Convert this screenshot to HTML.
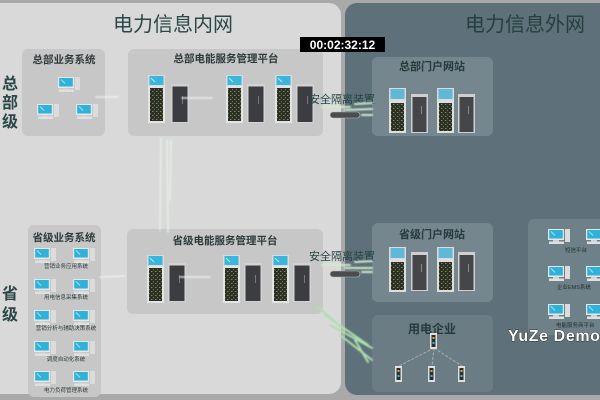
<!DOCTYPE html>
<html><head><meta charset="utf-8"><style>
html,body{margin:0;padding:0;background:#a9a9a9;}
svg{display:block;}
text{font-family:"Liberation Sans","Noto Sans CJK SC",sans-serif;}
</style></head><body>
<svg width="600" height="400" viewBox="0 0 600 400" xmlns="http://www.w3.org/2000/svg">
<defs>
  <pattern id="dots" width="4" height="4" patternUnits="userSpaceOnUse">
    <rect width="4" height="4" fill="#2b2f29"/>
    <rect x="0" y="0" width="1.5" height="1" fill="#8a8a45"/>
    <rect x="2" y="2" width="1" height="1.2" fill="#6f7a3a"/>
  </pattern>
  <filter id="blur1"><feGaussianBlur stdDeviation="0.8"/></filter>
  <filter id="blur2"><feGaussianBlur stdDeviation="1.5"/></filter>
  <g id="tower">
    <rect x="0" y="0" width="17" height="11" fill="#d9dcdc"/>
    <rect x="1.5" y="1" width="14" height="9" fill="#38b6dc"/>
    <path d="M3 3 l4 4" stroke="#bfeaf5" stroke-width="1"/>
    <rect x="0" y="11" width="17" height="37" fill="#e4e4e4"/>
    <rect x="2" y="13" width="13" height="33" fill="url(#dots)"/>
  </g>
  <g id="tower2">
    <rect x="0" y="0" width="17" height="13" fill="#d9dcdc"/>
    <rect x="1.5" y="1" width="14" height="10" fill="#5fb9d6"/>
    <rect x="0" y="13" width="17" height="32" fill="#dedede"/>
    <rect x="2" y="15" width="13" height="28" fill="url(#dots)"/>
  </g>
  <g id="cab">
    <rect x="0" y="0" width="18" height="39" fill="#d2d2d2"/>
    <rect x="1.5" y="2.5" width="15" height="35.5" fill="#3b3d40"/>
    <rect x="11" y="12" width="1" height="8" fill="#777"/>
  </g>
  <g id="cab2">
    <rect x="0" y="0" width="17" height="39" fill="#cfcfcf"/>
    <rect x="1.5" y="3" width="14" height="35" fill="#444648"/>
    <rect x="10" y="12" width="1" height="8" fill="#888"/>
  </g>
  <g id="pc">
    <rect x="0" y="0" width="16" height="11" fill="#e6e8e8"/>
    <rect x="1.2" y="1" width="13.6" height="8.5" fill="#2fb2da"/>
    <path d="M3 2.5 l4 4" stroke="#a8e2f2" stroke-width="1"/>
    <rect x="17" y="0" width="5" height="13" fill="#dcdcdc"/>
    <rect x="5" y="11" width="6" height="1.5" fill="#cfcfcf"/>
    <rect x="1" y="12.5" width="15" height="2.5" fill="#e0e0e0"/>
  </g>
  <g id="dev">
    <rect x="0" y="0" width="7" height="16" fill="#e0e0e0"/>
    <rect x="1.5" y="2" width="4" height="12" fill="#2c2f2c"/>
    <rect x="2.5" y="4" width="2" height="2" fill="#c8b040"/>
    <rect x="2.5" y="9" width="2" height="2" fill="#38b6dc"/>
  </g>
</defs>

<!-- background -->
<rect x="0" y="0" width="600" height="400" fill="#a9a9a9"/>
<!-- left panel -->
<rect x="-12" y="3" width="353" height="391" rx="12" fill="#d9d9d9"/>
<!-- right panel -->
<rect x="345" y="3" width="270" height="392" rx="12" fill="#5e7079"/>

<!-- titles -->
<text x="173" y="31" font-size="20" fill="#2b4846" text-anchor="middle">电力信息内网</text>
<text x="525" y="31" font-size="20" fill="#24403f" text-anchor="middle">电力信息外网</text>

<!-- vertical labels -->
<g font-size="16" fill="#2b4846" font-weight="bold">
<text x="2" y="89">总</text>
<text x="2" y="108">部</text>
<text x="2" y="127">级</text>
<text x="2" y="299">省</text>
<text x="2" y="320">级</text>
</g>

<!-- 总部业务系统 -->
<rect x="22" y="49" width="83" height="87" rx="6" fill="#c7c7c7"/>
<text x="64" y="63" font-size="10.5" font-weight="bold" fill="#2e3a3a" text-anchor="middle">总部业务系统</text>
<use href="#pc" x="58" y="77"/>
<use href="#pc" x="37" y="104"/>
<use href="#pc" x="76" y="104"/>

<!-- 总部电能服务管理平台 -->
<rect x="128" y="49" width="195" height="87" rx="6" fill="#c7c7c7"/>
<text x="226" y="62" font-size="10.5" font-weight="bold" fill="#2e3a3a" text-anchor="middle">总部电能服务管理平台</text>
<use href="#tower" x="148" y="75"/>
<use href="#cab" x="171" y="84"/>
<use href="#tower" x="226" y="75"/>
<use href="#cab" x="247" y="84"/>
<use href="#tower" x="275" y="75"/>
<use href="#cab" x="296" y="84"/>

<!-- 省级业务系统 -->
<rect x="28" y="225" width="73" height="172" rx="6" fill="#c7c7c7"/>
<text x="64" y="241" font-size="10.5" font-weight="bold" fill="#2e3a3a" text-anchor="middle">省级业务系统</text>
<g font-size="5.5" fill="#2e3a3a" text-anchor="middle">
<use href="#pc" x="34" y="248"/><use href="#pc" x="73" y="248"/>
<text x="66" y="268">营销业务应用系统</text>
<use href="#pc" x="34" y="279"/><use href="#pc" x="73" y="279"/>
<text x="66" y="299">用电信息采集系统</text>
<use href="#pc" x="34" y="310"/><use href="#pc" x="73" y="310"/>
<text x="66" y="330">营销分析与辅助决策系统</text>
<use href="#pc" x="34" y="341"/><use href="#pc" x="73" y="341"/>
<text x="66" y="361">调度自动化系统</text>
<use href="#pc" x="34" y="371"/><use href="#pc" x="73" y="371"/>
<text x="66" y="392">电力负荷管理系统</text>
</g>

<!-- 省级电能服务管理平台 -->
<rect x="127" y="229" width="196" height="85" rx="6" fill="#c7c7c7"/>
<text x="225" y="244" font-size="10.5" font-weight="bold" fill="#2e3a3a" text-anchor="middle">省级电能服务管理平台</text>
<use href="#tower" x="147" y="255"/>
<use href="#cab" x="168" y="263"/>
<use href="#tower" x="223" y="255"/>
<use href="#cab" x="244" y="263"/>
<use href="#tower" x="272" y="255"/>
<use href="#cab" x="293" y="263"/>

<!-- portal boxes -->
<rect x="372" y="57" width="121" height="79" rx="6" fill="#76868e"/>
<text x="432" y="70" font-size="11" font-weight="bold" fill="#263a3e" text-anchor="middle">总部门户网站</text>
<use href="#tower2" x="389" y="88"/>
<use href="#cab2" x="411" y="94"/>
<use href="#tower2" x="437" y="88"/>
<use href="#cab2" x="458" y="94"/>

<rect x="372" y="223" width="121" height="79" rx="6" fill="#76868e"/>
<text x="432" y="238" font-size="11" font-weight="bold" fill="#263a3e" text-anchor="middle">省级门户网站</text>
<use href="#tower2" x="389" y="247"/>
<use href="#cab2" x="411" y="252"/>
<use href="#tower2" x="437" y="247"/>
<use href="#cab2" x="458" y="252"/>

<!-- 用电企业 -->
<rect x="372" y="315" width="121" height="77" rx="6" fill="#6b7c84"/>
<text x="432" y="333" font-size="12" font-weight="bold" fill="#263a3e" text-anchor="middle">用电企业</text>
<g stroke="#c9d2d4" stroke-width="1" opacity="0.6" stroke-dasharray="3 1.5">
<line x1="434" y1="348" x2="399" y2="366"/>
<line x1="434" y1="348" x2="432" y2="366"/>
<line x1="434" y1="348" x2="462" y2="366"/>
</g>
<use href="#dev" x="430" y="333"/>
<use href="#dev" x="395" y="366"/>
<use href="#dev" x="428" y="366"/>
<use href="#dev" x="458" y="366"/>

<!-- right box -->
<rect x="528" y="219" width="90" height="116" rx="6" fill="#6e8088"/>
<g font-size="5.5" fill="#1f2f33">
<use href="#pc" x="548" y="229"/><use href="#pc" x="586" y="229"/>
<text x="565" y="252">短信平台</text>
<use href="#pc" x="548" y="266"/><use href="#pc" x="586" y="266"/>
<text x="557" y="289">企业EMS系统</text>
<use href="#pc" x="548" y="304"/><use href="#pc" x="586" y="304"/>
<text x="556" y="327">电能服务商平台</text>
</g>

<!-- isolation devices -->
<text x="342" y="103" font-size="11" fill="#234442" text-anchor="middle">安全隔离装置</text>
<rect x="330" y="112" width="30" height="6" rx="3" fill="#4a4c4e" stroke="#bbb" stroke-width="0.6"/>
<text x="342" y="260" font-size="11" fill="#234442" text-anchor="middle">安全隔离装置</text>
<rect x="330" y="271" width="30" height="6" rx="3" fill="#4a4c4e" stroke="#bbb" stroke-width="0.6"/>

<!-- data streaks -->
<g filter="url(#blur1)" stroke-linecap="round">
  <g stroke="#cfeccf" stroke-width="2">
    <line x1="322" y1="107" x2="350" y2="107"/>
    <line x1="355" y1="104" x2="372" y2="103"/>
    <line x1="345" y1="110" x2="372" y2="109"/>
    <line x1="362" y1="115" x2="372" y2="115"/>
    <line x1="322" y1="265" x2="350" y2="265"/>
    <line x1="355" y1="262" x2="372" y2="261"/>
    <line x1="345" y1="268" x2="372" y2="268"/>
    <line x1="362" y1="272" x2="372" y2="272"/>
  </g>
  <g stroke="#aee0ae" stroke-width="2">
    <line x1="318" y1="307" x2="345" y2="330"/>
    <line x1="325" y1="315" x2="368" y2="345"/>
    <line x1="330" y1="325" x2="372" y2="348"/>
    <line x1="340" y1="335" x2="372" y2="360"/>
    <line x1="355" y1="340" x2="368" y2="362"/>
  </g>
  <g stroke="#e8f4e8" stroke-width="1.6" opacity="0.8">
    <line x1="161" y1="138" x2="160" y2="230"/>
    <line x1="167" y1="140" x2="168" y2="232"/>
    <line x1="171" y1="140" x2="170" y2="200"/>
  </g>
  <g stroke="#f2f2f2" stroke-width="1.5" opacity="0.9">
    <line x1="96" y1="97" x2="118" y2="97"/>
    <line x1="182" y1="98" x2="212" y2="98"/>
    <line x1="100" y1="277" x2="125" y2="276"/>
    <line x1="180" y1="277" x2="210" y2="277"/>
  </g>
</g>

<!-- timestamp -->
<rect x="300" y="37" width="85" height="15" fill="#000"/>
<text x="342.5" y="49" font-size="12" font-weight="bold" fill="#fff" text-anchor="middle" font-family="Liberation Sans, sans-serif">00:02:32:12</text>

<!-- watermark -->
<text x="508" y="341" font-size="16" font-weight="bold" fill="#fff" stroke="#222" stroke-width="0.8" paint-order="stroke" font-family="Liberation Mono, monospace" letter-spacing="0.6">YuZe Demo</text>
</svg>
</body></html>
